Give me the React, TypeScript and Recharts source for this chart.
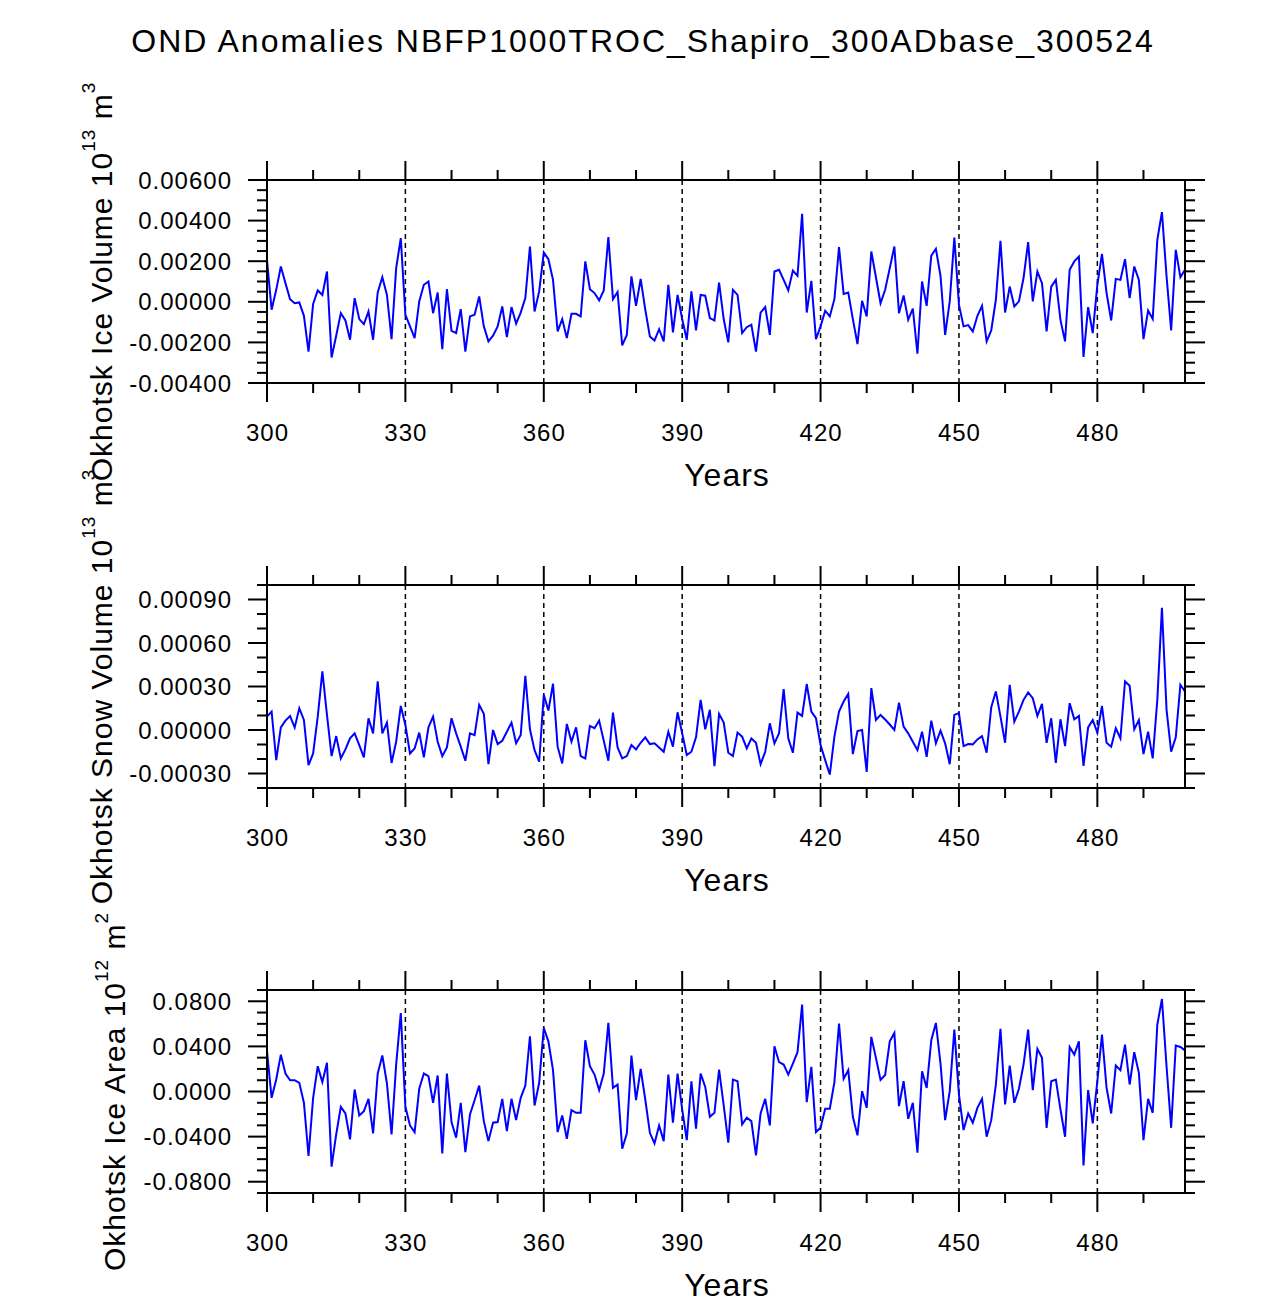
import React from 'react';
import { LineChart, Line, XAxis, YAxis, ReferenceLine } from 'recharts';

// ---------------- DATA ----------------
const years: number[] = Array.from({ length: 200 }, (_, i) => 300 + i);

const iceVolume: number[] = [
  0.00207, -0.00039, 0.00059, 0.00174, 0.00092, 0.00013, -0.00007, -0.00003, -0.00069, -0.00245,
  -0.00011, 0.00056, 0.00034, 0.00149, -0.00274, -0.00167, -0.00056, -0.00092, -0.00187, 0.00018,
  -0.00085, -0.0011, -0.00048, -0.00187, 0.00046, 0.00121, 0.00034, -0.00184, 0.00166, 0.00314,
  -0.00064, -0.00121, -0.00179, 0.00002, 0.00084, 0.001, -0.00056, 0.00046, -0.00233, 0.00062,
  -0.00143, -0.00154, -0.00036, -0.00245, -0.00072, -0.00064, 0.00026, -0.00121, -0.00195, -0.00167,
  -0.00121, -0.00023, -0.00174, -0.00026, -0.00108, -0.00053, 0.00018, 0.00272, -0.00048, 0.00051,
  0.00243, 0.0021, 0.00108, -0.00146, -0.00085, -0.00179, -0.00059, -0.00059, -0.00072, 0.00199,
  0.00062, 0.00043, 0.00007, 0.00056, 0.00319, 0.00013, 0.00048, -0.00215, -0.00163, 0.00125,
  -0.0002, 0.00113, -0.00039, -0.00171, -0.00191, -0.00135, -0.00195, 0.00084, -0.00151, 0.00034,
  -0.00085, -0.00187, 0.00051, -0.00141, 0.00034, 0.0003, -0.0008, -0.00092, 0.00095, -0.00085,
  -0.002, 0.00059, 0.00034, -0.00154, -0.00125, -0.00113, -0.00245, -0.00053, -0.00026, -0.00163,
  0.00149, 0.00158, 0.00108, 0.00056, 0.00154, 0.00128, 0.00433, -0.00053, 0.00103, -0.00184,
  -0.00121, -0.00044, -0.00072, 0.00013, 0.00269, 0.00039, 0.00046, -0.00085, -0.00208, 0.00005,
  -0.00072, 0.00248, 0.00121, -0.00007, 0.00059, 0.00166, 0.00272, -0.00056, 0.00031, -0.00089,
  -0.00034, -0.00256, 0.001, -0.0002, 0.00227, 0.00261, 0.00128, -0.00163, 0.00002, 0.00317,
  -0.00015, -0.00121, -0.00115, -0.00146, -0.00069, -0.0002, -0.00195, -0.00141, 0.0001, 0.003,
  -0.00053, 0.00075, -0.00023, 0.00002, 0.00117, 0.00294, 0.00002, 0.00149, 0.00092, -0.00146,
  0.00075, 0.00108, -0.00089, -0.00195, 0.00158, 0.00199, 0.00223, -0.00272, -0.00026, -0.00154,
  0.00084, 0.00236, 0.00043, -0.00092, 0.00113, 0.00108, 0.0021, 0.00018, 0.00174, 0.00108,
  -0.00184, -0.00043, -0.00085, 0.00305, 0.00442, 0.00125, -0.00141, 0.00256, 0.00121, 0.00158,
];

const snowVolume: number[] = [
  0.000092, 0.000127, -0.000208, 0.000018, 0.000065, 0.000097, 0.000018, 0.00015, 0.000069, -0.000243,
  -0.000162, 0.000092, 0.000404, 0.000104, -0.00018, -0.000042, -0.000196, -0.000134, -0.000058, -0.000023,
  -0.000104, -0.000189, 0.000081, -0.000023, 0.000335, -0.000023, 0.000051, -0.000227, -0.000081, 0.000166,
  0.000035, -0.000162, -0.000127, -0.000018, -0.000189, 0.000018, 0.000092, -0.000081, -0.00018, -0.00012,
  0.000081, -0.000023, -0.000115, -0.000212, -0.000023, -0.000035, 0.000173, 0.000111, -0.000236, 0.0,
  -0.000097, -0.000074, -0.000012, 0.000051, -0.000092, -0.000035, 0.000374, 0.000005, -0.000139, -0.000219,
  0.000243, 0.000134, 0.000319, -0.000115, -0.000231, 0.000042, -0.000081, 0.000018, -0.00018, -0.000196,
  0.000028, 0.000012, 0.000065, -0.000074, -0.000212, 0.00012, -0.00012, -0.000196, -0.00018, -0.000104,
  -0.000134, -0.000088, -0.000051, -0.000097, -0.000092, -0.00012, -0.00015, -0.000012, -0.000115, 0.000122,
  -0.000023, -0.000173, -0.00015, -0.000051, 0.000208, 0.000005, 0.000139, -0.000249, 0.000111, 0.000051,
  -0.000157, -0.00018, -0.000018, -0.000046, -0.000127, -0.000058, -0.000088, -0.000236, -0.00015, 0.000046,
  -0.000092, -0.000023, 0.000282, -0.000058, -0.000157, 0.00012, 0.000097, 0.000317, 0.000127, 0.000081,
  -0.000104, -0.000208, -0.000307, -0.000046, 0.000127, 0.000196, 0.000249, -0.000166, -0.000007, 0.0,
  -0.000289, 0.000289, 0.000069, 0.000104, 0.000072, 0.000038, 0.0, 0.000189, 0.000023, -0.000023,
  -0.000081, -0.000139, -0.000012, -0.000185, 0.000065, -0.000092, -0.000005, -0.000092, -0.000236, 0.000104,
  0.000116, -0.000111, -0.000097, -0.000099, -0.000065, -0.000042, -0.000157, 0.000157, 0.000266, 0.000092,
  -0.000088, 0.000312, 0.000058, 0.000127, 0.000208, 0.000259, 0.000219, 0.000097, 0.00018, -0.000088,
  0.000081, -0.000227, 0.000074, -0.000111, 0.000185, 0.000074, 0.000097, -0.000247, 0.000018, 0.000069,
  -0.000018, 0.000166, -0.000088, -0.000115, 0.000012, -0.000058, 0.000335, 0.000305, 0.000005, 0.000069,
  -0.000166, -0.000012, -0.000196, 0.000208, 0.000843, 0.000139, -0.00015, -0.000051, 0.000312, 0.000266,
];

const iceArea: number[] = [
  0.0357, -0.0056, 0.0106, 0.0327, 0.0159, 0.01, 0.01, 0.0077, -0.01, -0.0572,
  -0.0056, 0.0224, 0.0083, 0.0254, -0.0667, -0.0381, -0.0136, -0.0195, -0.0425, 0.0018,
  -0.0212, -0.0174, -0.0065, -0.0372, 0.0159, 0.0319, 0.0071, -0.0381, 0.0239, 0.0696,
  -0.0136, -0.0301, -0.036, 0.0024, 0.0159, 0.0136, -0.01, 0.0142, -0.0549, 0.0159,
  -0.0271, -0.041, -0.01, -0.0537, -0.0204, -0.0077, 0.0053, -0.0263, -0.044, -0.0277,
  -0.0271, -0.0065, -0.0351, -0.0065, -0.0254, -0.0056, 0.0053, 0.049, -0.0124, 0.0077,
  0.0563, 0.0445, 0.0189, -0.036, -0.0212, -0.0419, -0.0165, -0.0189, -0.0189, 0.0454,
  0.0224, 0.015, 0.0012, 0.0159, 0.0608, 0.0032, 0.0062, -0.0507, -0.0372, 0.0319,
  -0.0077, 0.0201, -0.0071, -0.0366, -0.046, -0.0301, -0.044, 0.015, -0.0277, 0.0159,
  -0.0159, -0.0431, 0.0091, -0.033, 0.0159, 0.0041, -0.0224, -0.0189, 0.0195, -0.0124,
  -0.0454, 0.0106, 0.0091, -0.0292, -0.0233, -0.0263, -0.0566, -0.0195, -0.0065, -0.0301,
  0.0401, 0.026, 0.0239, 0.015, 0.0248, 0.0348, 0.077, -0.0094, 0.0218, -0.036,
  -0.0322, -0.0153, -0.0153, 0.0083, 0.0602, 0.0112, 0.0189, -0.0224, -0.0389, 0.0003,
  -0.0145, 0.0484, 0.0298, 0.0103, 0.0146, 0.0445, 0.0519, -0.013, 0.0091, -0.0242,
  -0.01, -0.0543, 0.018, 0.0032, 0.0454, 0.0608, 0.0248, -0.0254, 0.0003, 0.0549,
  -0.0027, -0.0342, -0.0195, -0.0277, -0.0145, -0.0065, -0.0401, -0.0254, 0.0062, 0.0555,
  -0.0115, 0.023, -0.01, 0.0024, 0.0239, 0.0549, 0.0012, 0.0378, 0.0298, -0.0322,
  0.0091, 0.0106, -0.0159, -0.0401, 0.0395, 0.0327, 0.0445, -0.0655, 0.0012, -0.0283,
  0.0091, 0.0504, 0.0032, -0.0195, 0.023, 0.0189, 0.0416, 0.0062, 0.0348, 0.0165,
  -0.0431, -0.0065, -0.0189, 0.0593, 0.082, 0.0224, -0.0322, 0.0407, 0.0395, 0.0365,
];

const xMajorTicks: number[] = [300, 330, 360, 390, 420, 450, 480];
const xMinorTicks: number[] = [300, 310, 320, 330, 340, 350, 360, 370, 380, 390, 400, 410, 420, 430, 440, 450, 460, 470, 480, 490];
const gridYears: number[] = [330, 360, 390, 420, 450, 480];

const volMajorTicks: number[] = [-0.004, -0.002, 0, 0.002, 0.004, 0.006];
const snowMajorTicks: number[] = [-0.0003, 0, 0.0003, 0.0006, 0.0009];
const areaMajorTicks: number[] = [-0.08, -0.04, 0, 0.04, 0.08];

const mkSteps = (a: number, b: number, step: number) => {
  const n = Math.round((b - a) / step);
  const out: number[] = [];
  for (let i = 0; i <= n; i++) out.push(Number((a + i * step).toFixed(8)));
  return out;
};
const volMinorTicks = mkSteps(-0.004, 0.006, 0.0005);
const snowMinorTicks = mkSteps(-0.0004, 0.001, 0.0001);
const areaMinorTicks = mkSteps(-0.09, 0.09, 0.01);

// ---------------- LAYOUT ----------------
const FONT = '"Liberation Sans", Arial, Helvetica, sans-serif';
const W = 1285;
const PLOT_L = 267;
const PLOT_R = 1185;
const TOP_H = 20;
const PLOT_H = 203;
const BOT_H = 80;
const CH = TOP_H + PLOT_H + BOT_H;
const MAJ = 19;
const MIN = 10;
const AX = 2;

type PanelProps = {
  top: number;
  values: number[];
  domain: [number, number];
  majors: number[];
  minors: number[];
  digits: number;
};

const near = (v: number, list: number[], tol: number) => list.some((m) => Math.abs(m - v) < tol);

function Panel({ top, values, domain, majors, minors, digits }: PanelProps) {
  const data = years.map((y, i) => ({ year: y, v: values[i] }));
  const tol = (domain[1] - domain[0]) / 1000;
  const plotTop = TOP_H;
  const plotBottom = TOP_H + PLOT_H;

  const leftTick = (p: any) => {
    const v = p.payload.value;
    const major = near(v, majors, tol);
    let label = v.toFixed(digits);
    if (Math.abs(v) < tol) label = (0).toFixed(digits);
    return (
      <g>
        <line x1={PLOT_L - (major ? MAJ : MIN)} x2={PLOT_L} y1={p.y} y2={p.y} stroke="#000" strokeWidth={AX} />
        {major && (
          <text x={232} y={p.y} dy={8.6} textAnchor="end" fontSize={24} letterSpacing={1} fontFamily={FONT} fill="#000">
            {label}
          </text>
        )}
      </g>
    );
  };
  const rightTick = (p: any) => {
    const v = p.payload.value;
    const major = near(v, majors, tol);
    return <line x1={PLOT_R} x2={PLOT_R + (major ? MAJ + 1 : MIN)} y1={p.y} y2={p.y} stroke="#000" strokeWidth={AX} />;
  };
  const bottomTick = (p: any) => {
    const v = p.payload.value;
    const major = near(v, xMajorTicks, 0.01);
    return (
      <g>
        <line x1={p.x} x2={p.x} y1={plotBottom} y2={plotBottom + (major ? MAJ : MIN)} stroke="#000" strokeWidth={AX} />
        {major && (
          <text x={p.x + 0.5} y={plotBottom + 58} textAnchor="middle" fontSize={24} letterSpacing={1} fontFamily={FONT} fill="#000">
            {String(v)}
          </text>
        )}
      </g>
    );
  };
  const topTick = (p: any) => {
    const v = p.payload.value;
    const major = near(v, xMajorTicks, 0.01);
    return <line x1={p.x} x2={p.x} y1={plotTop} y2={plotTop - (major ? MAJ : MIN)} stroke="#000" strokeWidth={AX} />;
  };

  return (
    <div style={{ position: 'absolute', left: 0, top: top - TOP_H, width: W, height: CH }}>
      <LineChart width={W} height={CH} data={data} margin={{ top: 0, right: 0, bottom: 0, left: 0 }}>
        <XAxis
          dataKey="year"
          type="number"
          domain={[300, 499]}
          allowDataOverflow
          ticks={xMinorTicks}
          interval={0}
          tick={bottomTick}
          tickLine={false}
          tickSize={0}
          tickMargin={0}
          height={BOT_H}
          axisLine={{ stroke: '#000', strokeWidth: AX }}
        />
        <XAxis
          xAxisId="top"
          orientation="top"
          dataKey="year"
          type="number"
          domain={[300, 499]}
          allowDataOverflow
          ticks={xMinorTicks}
          interval={0}
          tick={topTick}
          tickLine={false}
          tickSize={0}
          tickMargin={0}
          height={TOP_H}
          axisLine={{ stroke: '#000', strokeWidth: AX }}
        />
        <YAxis
          type="number"
          domain={domain}
          allowDataOverflow
          ticks={minors}
          interval={0}
          tick={leftTick}
          tickLine={false}
          tickSize={0}
          tickMargin={0}
          width={PLOT_L}
          axisLine={{ stroke: '#000', strokeWidth: AX }}
        />
        <YAxis
          yAxisId="right"
          orientation="right"
          type="number"
          domain={domain}
          allowDataOverflow
          ticks={minors}
          interval={0}
          tick={rightTick}
          tickLine={false}
          tickSize={0}
          tickMargin={0}
          width={W - PLOT_R}
          axisLine={{ stroke: '#000', strokeWidth: AX }}
        />
        {gridYears.map((g) => (
          <ReferenceLine key={g} x={g} stroke="#000" strokeWidth={1.5} strokeDasharray="5 4" />
        ))}
        <Line
          type="linear"
          dataKey="v"
          stroke="#0000ff"
          strokeWidth={2}
          dot={false}
          activeDot={false}
          isAnimationActive={false}
        />
      </LineChart>
    </div>
  );
}

const supStyle = { fontSize: 19 };

export default function App() {
  return (
    <div style={{ position: 'absolute', left: 0, top: 0, width: W, height: 1303, background: '#fff', overflow: 'hidden' }}>
      <Panel top={180} values={iceVolume} domain={[-0.004, 0.006]} majors={volMajorTicks} minors={volMinorTicks} digits={5} />
      <Panel top={585} values={snowVolume} domain={[-0.0004, 0.001]} majors={snowMajorTicks} minors={snowMinorTicks} digits={5} />
      <Panel top={990} values={iceArea} domain={[-0.09, 0.09]} majors={areaMajorTicks} minors={areaMinorTicks} digits={4} />
      <svg width={W} height={1303} style={{ position: 'absolute', left: 0, top: 0, pointerEvents: 'none' }} fontFamily={FONT} fill="#000">
        <text x={643} y={52} textAnchor="middle" fontSize={32} letterSpacing={2}>
          OND Anomalies NBFP1000TROC_Shapiro_300ADbase_300524
        </text>
        <text transform="translate(112, 281.5) rotate(-90)" textAnchor="middle" fontSize={30} letterSpacing={1}>
          Okhotsk Ice Volume 10<tspan style={supStyle} dy={-17}>13</tspan>
          <tspan dy={17}> m</tspan>
          <tspan style={supStyle} dy={-17}>3</tspan>
        </text>
        <text transform="translate(112, 686.5) rotate(-90)" textAnchor="middle" fontSize={30} letterSpacing={1}>
          Okhotsk Snow Volume 10<tspan style={supStyle} dy={-17}>13</tspan>
          <tspan dy={17}> m</tspan>
          <tspan style={supStyle} dy={-17}>3</tspan>
        </text>
        <text transform="translate(125, 1091.5) rotate(-90)" textAnchor="middle" fontSize={30} letterSpacing={1}>
          Okhotsk Ice Area 10<tspan style={supStyle} dy={-17}>12</tspan>
          <tspan dy={17}> m</tspan>
          <tspan style={supStyle} dy={-17}>2</tspan>
        </text>
        <text x={727} y={486} textAnchor="middle" fontSize={32} letterSpacing={1}>Years</text>
        <text x={727} y={891} textAnchor="middle" fontSize={32} letterSpacing={1}>Years</text>
        <text x={727} y={1296} textAnchor="middle" fontSize={32} letterSpacing={1}>Years</text>
      </svg>
    </div>
  );
}
